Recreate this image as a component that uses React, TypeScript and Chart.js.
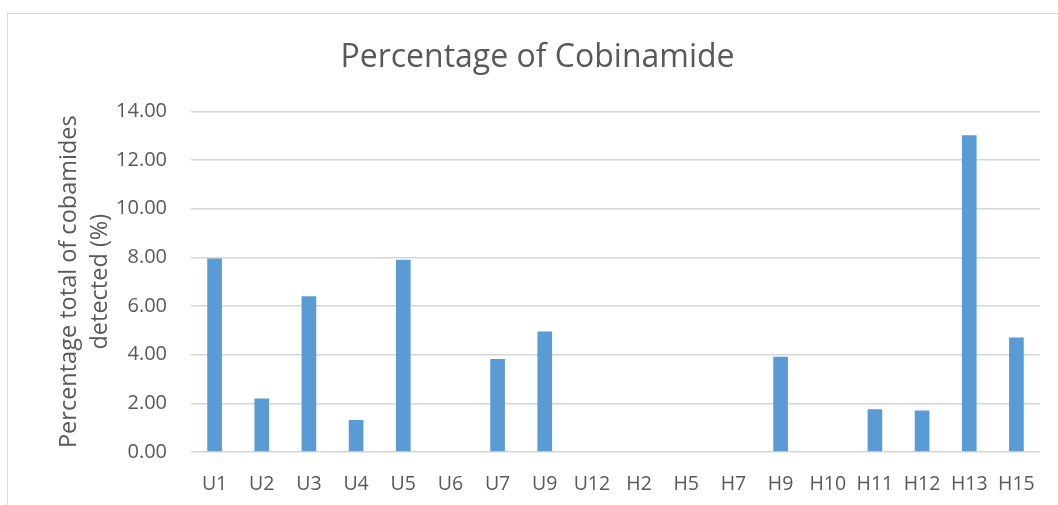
import React, { useEffect, useRef } from "react";
import { Chart, registerables } from "chart.js";

Chart.register(...registerables);

const categories = ["U1", "U2", "U3", "U4", "U5", "U6", "U7", "U9", "U12", "H2", "H5", "H7", "H9", "H10", "H11", "H12", "H13", "H15"];
const cobinamidePct = [7.95, 2.2, 6.4, 1.32, 7.9, 0, 3.82, 4.95, 0, 0, 0, 0, 3.92, 0, 1.76, 1.71, 13.02, 4.71];
const yTicks = [0, 2, 4, 6, 8, 10, 12, 14];
const chartTitle = "Percentage of Cobinamide";
const yTitle = ["Percentage total of cobamides", "detected (%)"];

const FONT = "'Open Sans', 'Noto Sans', sans-serif";
const TEXT = "#595959";

export default function App() {
  const ref = useRef<HTMLCanvasElement | null>(null);
  useEffect(() => {
    if (!ref.current) return;
    const chart = new Chart(ref.current, {
      type: "bar",
      data: {
        labels: categories,
        datasets: [
          {
            data: cobinamidePct,
            backgroundColor: "#5B9BD5",
            borderWidth: 0,
            categoryPercentage: 1,
            barPercentage: 0.311,
          },
        ],
      },
      options: {
        animation: false,
        responsive: false,
        layout: { padding: { left: 35, right: 18, top: 0, bottom: 0 } },
        plugins: {
          legend: { display: false },
          tooltip: { enabled: false },
          title: {
            display: true,
            text: chartTitle,
            color: TEXT,
            font: { family: FONT, size: 32, weight: "normal", lineHeight: 1.2 },
            padding: { top: 39, bottom: 34 },
          },
        },
        scales: {
          x: {
            grid: { display: false },
            border: { display: false },
            ticks: { color: TEXT, font: { family: FONT, size: 19.5 }, padding: 13, maxRotation: 0, autoSkip: false },
            afterFit: (s: any) => {
              s.height = 53;
            },
          },
          y: {
            min: 0,
            max: 14,
            afterBuildTicks: (s: any) => {
              s.ticks = yTicks.map((v) => ({ value: v }));
            },
            grid: { color: "#d6d6d6", lineWidth: 1.4, drawTicks: false },
            border: { display: false },
            ticks: {
              color: TEXT,
              font: { family: FONT, size: 20 },
              padding: 24,
              callback: (v: any) => Number(v).toFixed(2),
            },
            title: {
              display: true,
              text: yTitle,
              color: TEXT,
              font: { family: FONT, size: 23.5, lineHeight: 1.35 },
              padding: { top: 18, bottom: 0 },
            },
            afterFit: (s: any) => {
              s.width = 156;
            },
          },
        },
      },
    });
    return () => chart.destroy();
  }, []);

  return (
    <div style={{ position: "fixed", left: 0, top: 0, width: 1058, height: 505, overflow: "hidden", background: "#fff" }}>
      <div
        style={{
          position: "absolute",
          left: 7,
          top: 13,
          width: 1200,
          height: 700,
          border: "1px solid #d9d9d9",
          boxSizing: "border-box",
        }}
      />
      <canvas ref={ref} width={1058} height={505} style={{ position: "absolute", left: 0, top: 0 }} />
    </div>
  );
}
